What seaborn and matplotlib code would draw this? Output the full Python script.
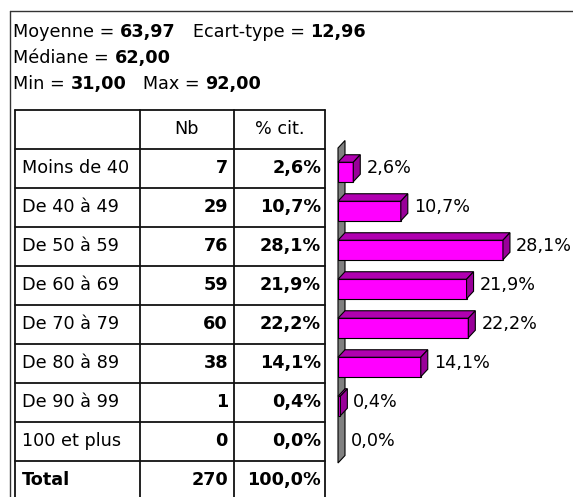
import matplotlib
matplotlib.use('Agg')
import matplotlib.pyplot as plt
from matplotlib.patches import Polygon
import seaborn as sns

# data
categories = ['Moins de 40', 'De 40 à 49', 'De 50 à 59', 'De 60 à 69',
              'De 70 à 79', 'De 80 à 89', 'De 90 à 99', '100 et plus']
counts = [7, 29, 76, 59, 60, 38, 1, 0]
pcts = [2.6, 10.7, 28.1, 21.9, 22.2, 14.1, 0.4, 0.0]
total_count = 270
total_pct = 100.0
stat_lines = [
    [('Moyenne = ', 'normal'), ('63,97', 'bold'), ('   Ecart-type = ', 'normal'), ('12,96', 'bold')],
    [('Médiane = ', 'normal'), ('62,00', 'bold')],
    [('Min = ', 'normal'), ('31,00', 'bold'), ('   Max = ', 'normal'), ('92,00', 'bold')],
]
headers = ['', 'Nb', '% cit.']


def fr(v, dec=1):
    return f"{v:.{dec}f}".replace('.', ',')


sns.set_style('white')
plt.rcParams['font.family'] = ['DejaVu Sans']
plt.rcParams['text.color'] = 'black'
FS = 12.7

W, H = 573, 497
fig = plt.figure(figsize=(W / 100, H / 100), dpi=100)

# overlay axes in pixel coordinates for the frame, stats and table
ov = fig.add_axes([0, 0, 1, 1])
ov.set_xlim(0, W)
ov.set_ylim(H, 0)
ov.axis('off')

# outer frame (left + top)
ov.plot([10, 10], [11, H + 5], color='#333333', lw=1, clip_on=False)
ov.plot([10, W + 5], [11, 11], color='#333333', lw=1, clip_on=False)

# summary statistics
for k, parts in enumerate(stat_lines):
    prev = None
    for s, wgt in parts:
        if prev is None:
            prev = ov.text(13, 37 + k * 26.2, s, fontsize=FS, fontweight=wgt,
                           va='baseline', ha='left')
        else:
            prev = ov.annotate(s, xy=(1, 0), xycoords=prev, fontsize=FS,
                               fontweight=wgt, va='bottom', ha='left')

# table
col_x = [15, 140, 234, 325]
head_top = 109.5
row_h = 39.0
n_rows = len(categories) + 2
lc = '#111111'
for k in range(n_rows + 1):
    y = head_top + k * row_h
    ov.plot([col_x[0], col_x[-1]], [y, y], color=lc, lw=1.3, clip_on=False)
for x in col_x:
    ov.plot([x, x], [head_top, head_top + n_rows * row_h], color=lc, lw=1.3, clip_on=False)

yc = head_top + row_h / 2
ov.text((col_x[1] + col_x[2]) / 2, yc, headers[1], fontsize=FS, ha='center', va='center')
ov.text((col_x[2] + col_x[3]) / 2, yc, headers[2], fontsize=FS, ha='center', va='center')

rows = list(zip(categories, counts, pcts)) + [('Total', total_count, total_pct)]
for i, (lab, n, p) in enumerate(rows):
    yc = head_top + (i + 1.5) * row_h
    lab_w = 'bold' if lab == 'Total' else 'normal'
    ov.text(col_x[0] + 7, yc, lab, fontsize=FS, fontweight=lab_w, ha='left', va='center')
    ov.text(col_x[2] - 6, yc, str(n), fontsize=FS, fontweight='bold', ha='right', va='center')
    ov.text(col_x[3] - 4, yc, fr(p) + '%', fontsize=FS, fontweight='bold', ha='right', va='center')

# bar chart axes
ax_left, ax_top, ax_bottom = 338, 148, 463
px_per_pct = 5.87
bar_center0 = 172.0
ax = fig.add_axes([ax_left / W, 1 - ax_bottom / H,
                   (W - ax_left) / W, (ax_bottom - ax_top) / H])
ax.patch.set_alpha(0)
sns.barplot(x=pcts, y=categories, orient='h', color='#FF00FF', saturation=1,
            width=0.5, edgecolor='black', linewidth=0.8, ax=ax, zorder=2)
ylim_top = -(bar_center0 - ax_top) / row_h
ylim_bot = ylim_top + (ax_bottom - ax_top) / row_h
ax.set_ylim(ylim_bot, ylim_top)
ax.set_xlim(0, (W - ax_left) / px_per_pct)
ax.axis('off')

# 3D depth in data units
dpx, dpy = 7.0, 7.5
dx = dpx / px_per_pct
dy = dpy / row_h

# back wall
wall = Polygon([(0, ylim_bot), (0, ylim_top), (dx, ylim_top - dy), (dx, ylim_bot - dy)],
               closed=True, facecolor='#808080', edgecolor='black', lw=0.8,
               zorder=1, clip_on=False)
ax.add_patch(wall)

for bar, v in zip(ax.patches[:len(pcts)], pcts):
    if v <= 0:
        bar.set_visible(False)
        continue
    x0 = bar.get_x()
    w = bar.get_width()
    y0 = bar.get_y()
    h = bar.get_height()
    yt, yb = min(y0, y0 + h), max(y0, y0 + h)
    top = Polygon([(x0, yt), (x0 + w, yt), (x0 + w + dx, yt - dy), (x0 + dx, yt - dy)],
                  closed=True, facecolor='#B000B0', edgecolor='black', lw=0.8,
                  zorder=3, clip_on=False)
    side = Polygon([(x0 + w, yt), (x0 + w, yb), (x0 + w + dx, yb - dy), (x0 + w + dx, yt - dy)],
                   closed=True, facecolor='#990099', edgecolor='black', lw=0.8,
                   zorder=3, clip_on=False)
    ax.add_patch(top)
    ax.add_patch(side)

for i, v in enumerate(pcts):
    ax.annotate(fr(v) + '%', xy=(v, i), xytext=(dpx + 6, 4), textcoords='offset pixels',
                fontsize=FS, ha='left', va='center', annotation_clip=False)

fig.savefig('out.png', dpi=100)
